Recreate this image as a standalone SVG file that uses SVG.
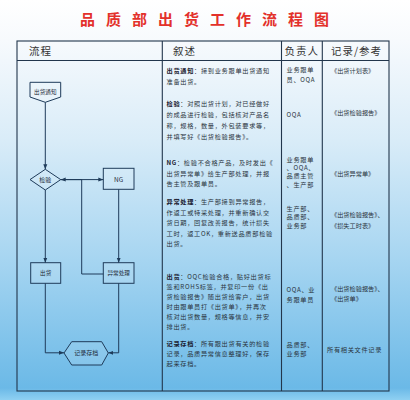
<svg xmlns="http://www.w3.org/2000/svg" width="410" height="400" viewBox="0 0 410 400">
<defs>
<linearGradient id="bg" x1="0" y1="0" x2="0" y2="400" gradientUnits="userSpaceOnUse">
<stop offset="0" stop-color="#ffffff"/>
<stop offset="0.1" stop-color="#f7fafd"/>
<stop offset="0.35" stop-color="#d9ecf8"/>
<stop offset="0.65" stop-color="#a6d5f1"/>
<stop offset="0.97" stop-color="#6bb9e7"/>
<stop offset="1" stop-color="#8fd0f2"/>
</linearGradient>
<marker id="ah" viewBox="0 0 10 10" refX="10" refY="5" markerWidth="5" markerHeight="5" orient="auto" markerUnits="userSpaceOnUse">
<path d="M0,1 L10,5 L0,9 Z" fill="#1e3b5a"/>
</marker>
<style>
.title{font-family:"Noto Sans CJK SC",sans-serif;font-size:15px;font-weight:bold;fill:#e3312b;letter-spacing:11px}
.hd{font-family:"Noto Sans CJK SC",sans-serif;font-size:10.5px;fill:#333;letter-spacing:1px}
.t{font-family:"Noto Sans CJK SC",sans-serif;font-size:6.2px;fill:#2a3440;letter-spacing:0.7px}
.b{font-weight:bold;fill:#1a2030}
.nl{font-family:"Noto Sans CJK SC",sans-serif;font-size:5.6px;fill:#1e2b3a;text-anchor:middle}
.grid{fill:none;stroke:#22364c;stroke-width:1.1}
.shape{fill:rgba(255,255,255,0.12);stroke:#1e3b5a;stroke-width:1}
.c{fill:none;stroke:#1e3b5a;stroke-width:1}
</style>
</defs>
<rect x="0" y="0" width="410" height="400" fill="url(#bg)"/>
<text class="title" x="210" y="25" text-anchor="middle">品质部出货工作流程图</text>

<g id="table">
<rect class="grid" x="17" y="41" width="372" height="350"/>
<line class="grid" x1="17" y1="60.5" x2="389" y2="60.5"/>
<line class="grid" x1="162.3" y1="41" x2="162.3" y2="391"/>
<line class="grid" x1="281.5" y1="41" x2="281.5" y2="391"/>
<line class="grid" x1="322.3" y1="41" x2="322.3" y2="391"/>
<text class="hd" x="29" y="55">流程</text>
<text class="hd" x="173" y="55">叙述</text>
<text class="hd" x="284.5" y="55">负责人</text>
<text class="hd" x="331" y="55">记录/参考</text>
</g>

<g id="connectors">
<line class="c" x1="45.3" y1="102.3" x2="45.3" y2="169.3" marker-end="url(#ah)"/>
<line class="c" x1="45.3" y1="190" x2="45.3" y2="262.7" marker-end="url(#ah)"/>
<line class="c" x1="60.7" y1="179.6" x2="103.3" y2="179.6" marker-end="url(#ah)"/>
<polyline class="c" points="103.3,274 81.7,274 81.7,179.6 60.7,179.6" marker-end="url(#ah)"/>
<line class="c" x1="118.7" y1="189.3" x2="118.7" y2="262.7" marker-end="url(#ah)"/>
<polyline class="c" points="45.3,283.3 45.3,352.8 64,352.8" marker-end="url(#ah)"/>
<polyline class="c" points="118.7,283.3 118.7,352.8 108.3,352.8" marker-end="url(#ah)"/>
</g>

<g id="n-notice">
<polygon class="shape" points="30,82.3 60.7,82.3 60.7,97 45.3,102.3 30,97"/>
<text class="nl" x="45.3" y="94">出货通知</text>
</g>
<g id="n-check">
<polygon class="shape" points="45.3,169.3 60.7,179.6 45.3,190 30,179.6"/>
<text class="nl" x="45.3" y="181.8" style="font-size:6px">检验</text>
</g>
<g id="n-ng">
<rect class="shape" x="103.3" y="168.3" width="30.7" height="21"/>
<text class="nl" x="118.7" y="181.8" style="font-size:6.5px">NG</text>
</g>
<g id="n-ship">
<rect class="shape" x="30.7" y="262.7" width="30" height="20.6"/>
<text class="nl" x="45.7" y="275">出货</text>
</g>
<g id="n-handle">
<rect class="shape" x="103.3" y="262.7" width="30.7" height="20.6"/>
<text class="nl" x="118.7" y="275">异常处理</text>
</g>
<g id="n-archive">
<polygon class="shape" points="64,353 71.7,341.7 101.7,341.7 108.3,353 101.7,365 71.7,365"/>
<text class="nl" x="86.2" y="355.2" style="font-size:6px">记录存档</text>
</g>

<g id="desc">
<text class="t" x="166.5" y="73"><tspan class="b">出货通知</tspan>：接到业务跟单出货通知</text>
<text class="t" x="166.5" y="84">准备出货。</text>
<text class="t" x="166.5" y="106"><tspan class="b">检验</tspan>：对照出货计划，对已经做好</text>
<text class="t" x="166.5" y="117">的成品进行检验，包括核对产品名</text>
<text class="t" x="166.5" y="128">称，规格，数量，外包装要求等，</text>
<text class="t" x="166.5" y="139">并填写好《出货检验报告》。</text>
<text class="t" x="166.5" y="165"><tspan class="b">NG</tspan>：检验不合格产品，及时发出《</text>
<text class="t" x="166.5" y="175.5">出货异常单》给生产部处理，并报</text>
<text class="t" x="166.5" y="186">告主管及跟单员。</text>
<text class="t" x="166.5" y="204"><tspan class="b">异常处理</tspan>：生产部接到异常报告，</text>
<text class="t" x="166.5" y="214.5">作返工或特采处理，并重新确认交</text>
<text class="t" x="166.5" y="225">货日期，回复改善报告，统计损失</text>
<text class="t" x="166.5" y="235.5">工时，返工OK，重新送品质部检验</text>
<text class="t" x="166.5" y="246">出货。</text>
<text class="t" x="166.5" y="278.5"><tspan class="b">出货</tspan>：OQC检验合格，贴好出货标</text>
<text class="t" x="166.5" y="288.5">签和ROHS标签，并复印一份《出</text>
<text class="t" x="166.5" y="298.5">货检验报告》随出货给客户，出货</text>
<text class="t" x="166.5" y="308.5">时由跟单员打《出货单》，并再次</text>
<text class="t" x="166.5" y="318.5">核对出货数量，规格等信息，并安</text>
<text class="t" x="166.5" y="328.5">排出货。</text>
<text class="t" x="166.5" y="345.5"><tspan class="b">记录存档</tspan>：所有跟出货有关的检验</text>
<text class="t" x="166.5" y="356">记录，品质异常信息整理好，保存</text>
<text class="t" x="166.5" y="366">起来存档。</text>
</g>

<g id="resp">
<text class="t" x="286.5" y="72">业务跟单</text>
<text class="t" x="286.5" y="81.5">员、OQA</text>
<text class="t" x="286.5" y="117">OQA</text>
<text class="t" x="286.5" y="161.5">业务跟单</text>
<text class="t" x="286.5" y="169.5">、OQA、</text>
<text class="t" x="286.5" y="178">品质主管</text>
<text class="t" x="286.5" y="186.5">、生产部</text>
<text class="t" x="286.5" y="210.5">生产部、</text>
<text class="t" x="286.5" y="219">品质部、</text>
<text class="t" x="286.5" y="227.5">业务部</text>
<text class="t" x="286.5" y="291.5">OQA、业</text>
<text class="t" x="286.5" y="301.5">务跟单员</text>
<text class="t" x="286.5" y="347">品质部、</text>
<text class="t" x="286.5" y="356">业务部</text>
</g>

<g id="records">
<text class="t" x="331" y="73" style="letter-spacing:0px">《出货计划表》</text>
<text class="t" x="331" y="115" style="letter-spacing:0px">《出货检验报告》</text>
<text class="t" x="331" y="176" style="letter-spacing:0px">《出货异常单》</text>
<text class="t" x="331" y="217" style="letter-spacing:0px">《出货检验报告》、</text>
<text class="t" x="331" y="228" style="letter-spacing:0px">《损失工时表》</text>
<text class="t" x="331" y="290.5" style="letter-spacing:0px">《出货检验报告》、</text>
<text class="t" x="331" y="301" style="letter-spacing:0px">《出货单》</text>
<text class="t" x="327" y="351.5">所有相关文件记录</text>
</g>
</svg>
